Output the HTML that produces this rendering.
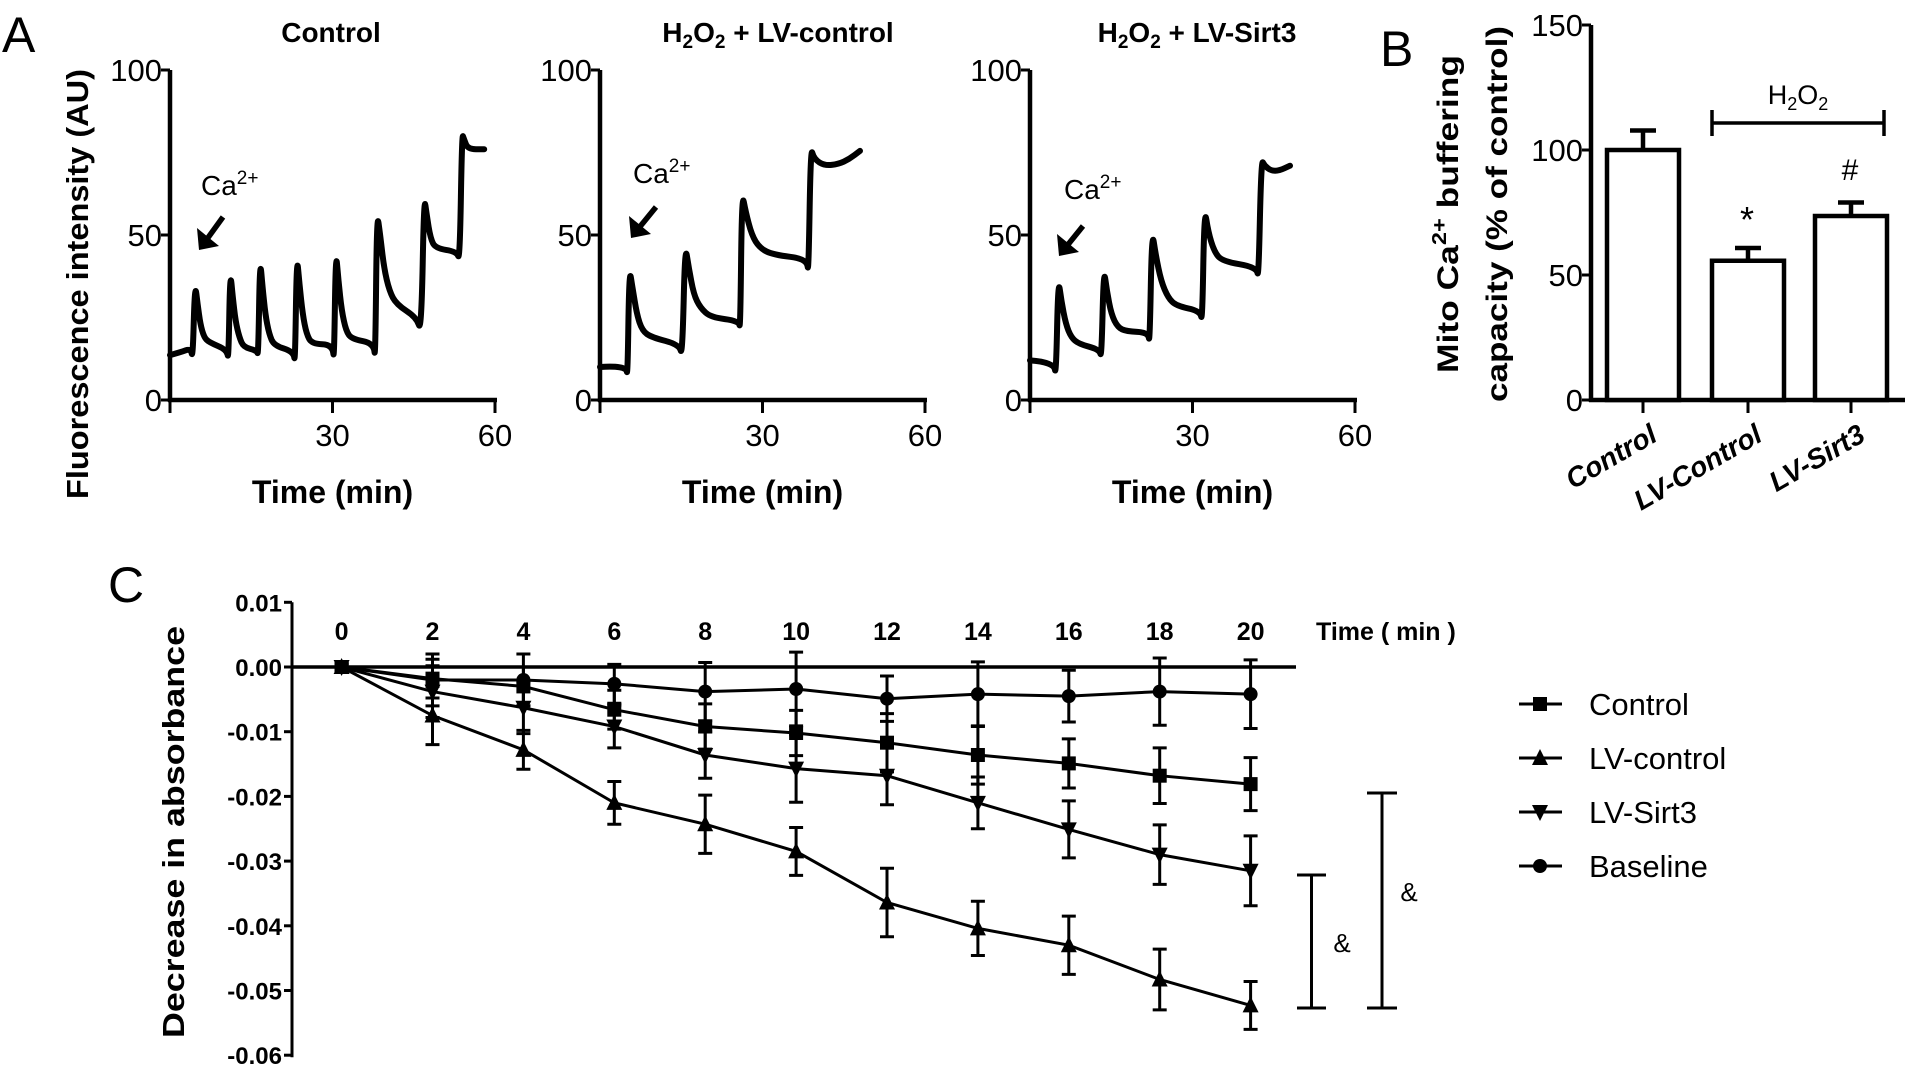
<!DOCTYPE html>
<html><head><meta charset="utf-8"><style>
html,body{margin:0;padding:0;background:#fff;}
svg{display:block;}
text{font-family:"Liberation Sans",sans-serif;fill:#000;}
.n{font-family:"Liberation Sans Narrow","Liberation Sans",sans-serif;}
</style></head><body>
<svg id="fig" width="1913" height="1090" viewBox="0 0 1913 1090" xmlns="http://www.w3.org/2000/svg"></svg>
<script>
// ---------- Panel A data (time in min, fluorescence AU) ----------
const ctrlT=[0,2,3.8,4.2,4.6,5.1,5.6,6.3,7.2,10.5,10.8,11.1,11.6,12.1,12.8,13.6,16.0,16.3,16.6,17.1,17.6,18.3,19.2,22.8,23.1,23.4,23.9,24.5,25.2,26.2,30.0,30.3,30.6,31.1,31.7,32.5,33.5,37.6,37.9,38.2,38.8,39.5,40.5,41.8,45.5,46.4,46.9,47.4,48.1,49,52.9,53.5,53.9,54.3,55,58];
const ctrlV=[13.6,14.5,15.6,12.6,35.6,29,23,19,17.5,15.2,12,39.5,31,24,19,16,15,13.5,43.2,34,26,20,16.5,14.7,11,44.4,35,26,20,17,16.8,11.5,45.9,36,27,21,18.5,17.2,12,57.4,50,40,33,29,25,20.5,62,56,49,46,45,42.3,80.8,79,76,76];
const lvcT=[0,4.8,5.1,5.4,6,6.8,7.8,9.5,14.6,15.2,15.7,16.4,17.3,18.5,20.5,25.6,25.9,26.2,26.9,28,29.5,32,38.2,38.5,38.9,39.5,41.5,44,46,48];
const lvcV=[10,10.5,6.8,40.2,34,26,21,19,16.8,13.2,47.4,40,32,28,25,24,21.4,63.1,57,50,46,44,42.8,38,76.8,73,71,71.5,73,75.5];
const sirT=[0,4.4,4.8,5.2,5.8,6.6,7.6,9,12.8,13.2,13.6,14.2,15,16.2,17.8,21.8,22.1,22.5,23.2,24.2,25.5,27,31.4,31.8,32.2,32.9,34,35.5,41.8,42.2,42.7,43.3,44.5,46,48];
const sirV=[12,11.5,7,37,30,23,19,17,15.3,12.7,40.2,33,26,22,20.8,20.5,17,51.7,44,36,31,28.5,27,23.6,58.5,51,45,42,40.3,36.7,73,71,69.5,69.5,71];
const aTicksY=[0,50,100];
const aTicksX=[30,60];
// ---------- Panel B data ----------
const bCats=["Control","LV-Control","LV-Sirt3"];
const bVals=[100,55.7,73.6];
const bErr=[7.8,5.1,5.4];
const bTicks=[0,50,100,150];
// ---------- Panel C data ----------
const cTimes=[0,2,4,6,8,10,12,14,16,18,20];
const cCtrl=[0,-0.0018,-0.003,-0.0066,-0.0092,-0.0102,-0.0117,-0.0136,-0.0149,-0.0168,-0.0181];
const cCtrlE=[0.0005,0.003,0.003,0.003,0.0035,0.0035,0.0045,0.0045,0.0038,0.0043,0.0041];
const cLvc=[0,-0.0075,-0.0128,-0.021,-0.0243,-0.0285,-0.0364,-0.0404,-0.043,-0.0483,-0.0523];
const cLvcE=[0.0005,0.0045,0.003,0.0033,0.0045,0.0037,0.0053,0.0042,0.0045,0.0047,0.0037];
const cSir=[0,-0.0038,-0.0063,-0.0092,-0.0136,-0.0157,-0.0168,-0.021,-0.0251,-0.029,-0.0315];
const cSirE=[0.0005,0.004,0.004,0.0033,0.0036,0.0052,0.0045,0.004,0.0044,0.0046,0.0054];
const cBase=[0,-0.002,-0.002,-0.0026,-0.0038,-0.0034,-0.0049,-0.0042,-0.0045,-0.0038,-0.0042];
const cBaseE=[0.0005,0.004,0.004,0.003,0.0045,0.0057,0.0035,0.005,0.004,0.0052,0.0053];
const cTicksY=[0.01,0,-0.01,-0.02,-0.03,-0.04,-0.05,-0.06];
const cTickLabels=["0.01","0.00","-0.01","-0.02","-0.03","-0.04","-0.05","-0.06"];

const NS="http://www.w3.org/2000/svg";
const svg=document.getElementById('fig');
function mk(tag,attrs,parent){const e=document.createElementNS(NS,tag);for(const k in attrs)e.setAttribute(k,attrs[k]);(parent||svg).appendChild(e);return e;}
function txt(s,attrs,parent){const e=mk('text',attrs,parent);e.textContent=s;return e;}
function smoothPath(P){
  let d='M'+P[0][0].toFixed(1)+','+P[0][1].toFixed(1);
  for(let i=1;i<P.length-1;i++){
    const mx=(P[i][0]+P[i+1][0])/2, my=(P[i][1]+P[i+1][1])/2;
    d+=' Q'+P[i][0].toFixed(1)+','+P[i][1].toFixed(1)+' '+mx.toFixed(1)+','+my.toFixed(1);
  }
  const l=P[P.length-1];d+=' L'+l[0].toFixed(1)+','+l[1].toFixed(1);
  return d;
}

// ================= Panel A =================
const aAxisX=[170,600,1030];
const aData=[[ctrlT,ctrlV],[lvcT,lvcV],[sirT,sirV]];
const aArrow=[[223,217,199,250,201,195],[656,207,631,238,633,183],[1083,226,1059,256,1064,199]];
const AY0=400, AYS=3.3, AXS=325/60;
let L=txt("A",{x:2,y:52,'font-size':50});

L=txt("Fluorescence intensity (AU)",{x:0,y:0,'font-size':31,'font-weight':'bold','text-anchor':'middle',transform:'translate(88,284) rotate(-90)',textLength:430,lengthAdjust:'spacingAndGlyphs'});

for(let p=0;p<3;p++){
  const g=mk('g',{});
  
  const ax=aAxisX[p];
  const xs=t=>ax+t*AXS, ys=v=>AY0-v*AYS;
  let t;
  if(p===0){t=txt("Control",{x:331,y:42,'font-size':28,'font-weight':'bold','text-anchor':'middle',class:'n'},g);}
  else{
    t=mk('text',{x:[778,1197][p-1],y:42,'font-size':28,'font-weight':'bold','text-anchor':'middle',class:'n'},g);
    t.innerHTML='H<tspan font-size="19" dy="6">2</tspan><tspan dy="-6">O</tspan><tspan font-size="19" dy="6">2</tspan><tspan dy="-6"> + '+(p===1?'LV-control':'LV-Sirt3')+'</tspan>';
  }
  
  let a=mk('line',{x1:ax,y1:ys(100),x2:ax,y2:AY0+2,stroke:'#000','stroke-width':4.5},g);
  
  a=mk('line',{x1:ax-2,y1:AY0,x2:xs(60)+2,y2:AY0,stroke:'#000','stroke-width':4.5},g);
  
  aTicksY.forEach(v=>{
    const tk=mk('line',{x1:ax-9,y1:ys(v),x2:ax,y2:ys(v),stroke:'#000','stroke-width':3},g);
    
    const lb=txt(String(v),{x:ax-8,y:ys(v)+11,'font-size':31,'text-anchor':'end',class:'n'},g);
    
  });
  [0].concat(aTicksX).forEach(v=>{
    const tk=mk('line',{x1:xs(v),y1:AY0,x2:xs(v),y2:AY0+13,stroke:'#000','stroke-width':3},g);
    
  });
  aTicksX.forEach(v=>{
    const lb=txt(String(v),{x:xs(v),y:446,'font-size':31,'text-anchor':'middle',class:'n'},g);
    
  });
  const xl=txt("Time (min)",{x:xs(30),y:503,'font-size':32,'font-weight':'bold','text-anchor':'middle',class:'n'},g);
  
  const [T,V]=aData[p];
  const pts=T.map((tt,i)=>[xs(tt),ys(V[i])]);
  const tr=mk('path',{d:smoothPath(pts),fill:'none',stroke:'#000','stroke-width':6,'stroke-linejoin':'round','stroke-linecap':'round'},g);
  
  const ar=aArrow[p];
  const arr=mk('g',{},g);
  
  mk('line',{x1:ar[0],y1:ar[1],x2:ar[2]+3,y2:ar[3]-4,stroke:'#000','stroke-width':5.5},arr);
  mk('polygon',{points:`${ar[2]},${ar[3]} ${ar[2]-2},${ar[3]-22} ${ar[2]+20},${ar[3]-4}`,fill:'#000'},arr);
  const cl=mk('text',{x:ar[4],y:ar[5],'font-size':28,class:'n'},g);
  cl.innerHTML='Ca<tspan font-size="19" dy="-11">2+</tspan>';
  
}

// ================= Panel B =================
const BX0=1591, BX1=1905, BY0=400, BYS=2.5;
const byS=v=>BY0-v*BYS;
const bCenters=[1643,1748,1851];
const gB=mk('g',{});

L=txt("B",{x:1380,y:66,'font-size':50},gB);

const byt=mk('text',{x:0,y:0,'font-size':30,'font-weight':'bold','text-anchor':'middle',transform:'translate(1458,214) rotate(-90)',textLength:318,lengthAdjust:'spacingAndGlyphs'},gB);
byt.innerHTML='Mito Ca<tspan font-size="20" dy="-12">2+</tspan><tspan dy="12"> buffering</tspan>';

L=txt("capacity (% of control)",{x:0,y:0,'font-size':30,'font-weight':'bold','text-anchor':'middle',transform:'translate(1507,214) rotate(-90)',textLength:376,lengthAdjust:'spacingAndGlyphs'},gB);

let ba=mk('line',{x1:BX0,y1:byS(150),x2:BX0,y2:BY0+2,stroke:'#000','stroke-width':4.5},gB);

ba=mk('line',{x1:BX0-2,y1:BY0,x2:BX1,y2:BY0,stroke:'#000','stroke-width':4.5},gB);

bTicks.forEach(v=>{
  const tk=mk('line',{x1:BX0-9,y1:byS(v),x2:BX0,y2:byS(v),stroke:'#000','stroke-width':3},gB);
  
  const lb=txt(String(v),{x:BX0-8,y:byS(v)+11,'font-size':31,'text-anchor':'end',class:'n'},gB);
  
});
bCats.forEach((c,i)=>{
  const cx=bCenters[i];
  const bar=mk('rect',{x:cx-36,y:byS(bVals[i]),width:72,height:bVals[i]*BYS,fill:'#fff',stroke:'#000','stroke-width':4.5},gB);
  
  const eb=mk('path',{d:`M${cx},${byS(bVals[i])} V${byS(bVals[i]+bErr[i])} M${cx-13},${byS(bVals[i]+bErr[i])} H${cx+13}`,stroke:'#000','stroke-width':4.5,fill:'none'},gB);
  
  const tk=mk('line',{x1:cx,y1:BY0,x2:cx,y2:BY0+13,stroke:'#000','stroke-width':3},gB);
  
  const lb=txt(c,{x:0,y:0,'font-size':28,'font-weight':'bold','font-style':'italic','text-anchor':'end',transform:`translate(${cx+16},${440}) rotate(-30)`},gB);
  
});
L=txt("*",{x:1747,y:232,'font-size':36,'text-anchor':'middle'},gB);

L=txt("#",{x:1850,y:180,'font-size':30,'text-anchor':'middle',class:'n'},gB);

L=mk('path',{d:'M1712,110 V136 M1712,123 H1884 M1884,110 V136',stroke:'#000','stroke-width':3.5,fill:'none'},gB);

L=mk('text',{x:1798,y:104,'font-size':27,'text-anchor':'middle',class:'n'},gB);
L.innerHTML='H<tspan font-size="18" dy="6">2</tspan><tspan dy="-6">O</tspan><tspan font-size="18" dy="6">2</tspan>';


// ================= Panel C =================
const CX0=341.6, CXS=45.45, CY0=667, CYS=6470;
const cx=t=>CX0+t*CXS, cy=v=>CY0-v*CYS;
const gC=mk('g',{});

L=txt("C",{x:108,y:602,'font-size':50},gC);

L=txt("Decrease in absorbance",{x:0,y:0,'font-size':31,'font-weight':'bold','text-anchor':'middle',transform:'translate(184,832) rotate(-90)',textLength:412,lengthAdjust:'spacingAndGlyphs'},gC);

L=mk('line',{x1:292,y1:cy(0.01),x2:292,y2:cy(-0.06)+2,stroke:'#000','stroke-width':3},gC);

L=mk('line',{x1:292,y1:CY0,x2:1296,y2:CY0,stroke:'#000','stroke-width':3.5},gC);

cTicksY.forEach((v,i)=>{
  const tk=mk('line',{x1:284,y1:cy(v),x2:292,y2:cy(v),stroke:'#000','stroke-width':3},gC);
  
  const lb=txt(cTickLabels[i],{x:282,y:cy(v)+9,'font-size':24,'font-weight':'bold','text-anchor':'end',class:'n'},gC);
  
});
cTimes.forEach(t=>{
  const lb=txt(String(t),{x:cx(t),y:640,'font-size':25,'font-weight':'bold','text-anchor':'middle',class:'n'},gC);
  
});
L=txt("Time ( min )",{x:1316,y:640,'font-size':25,'font-weight':'bold',class:'n'},gC);

function marker(kind,x,y,parent){
  let m;
  if(kind==='sq') m=mk('rect',{x:x-7,y:y-7,width:14,height:14,fill:'#000'},parent);
  else if(kind==='up') m=mk('polygon',{points:`${x},${y-9} ${x-8},${y+7} ${x+8},${y+7}`,fill:'#000'},parent);
  else if(kind==='dn') m=mk('polygon',{points:`${x},${y+9} ${x-8},${y-7} ${x+8},${y-7}`,fill:'#000'},parent);
  else m=mk('circle',{cx:x,cy:y,r:7,fill:'#000'},parent);
  return m;
}
const cSeries=[["control",cCtrl,cCtrlE,'sq'],["lv-control",cLvc,cLvcE,'up'],["lv-sirt3",cSir,cSirE,'dn'],["baseline",cBase,cBaseE,'ci']];
cSeries.forEach(s=>{
  const g=mk('g',{},gC);
  
  const [_,vals,errs,kind]=s;
  cTimes.forEach((t,i)=>{
    const x=cx(t),y1=cy(vals[i]+errs[i]),y2=cy(vals[i]-errs[i]);
    const e=mk('path',{d:`M${x},${y1} V${y2} M${x-7},${y1} H${x+7} M${x-7},${y2} H${x+7}`,stroke:'#000','stroke-width':3,fill:'none'},g);
    
  });
  const ln=mk('polyline',{points:cTimes.map((t,i)=>cx(t)+','+cy(vals[i])).join(' '),fill:'none',stroke:'#000','stroke-width':3},g);
  
  cTimes.forEach((t,i)=>{
    const m=marker(kind,cx(t),cy(vals[i]),g);
    
  });
});
const legNames=["Control","LV-control","LV-Sirt3","Baseline"];
const legKinds=['sq','up','dn','ci'];
legNames.forEach((n,i)=>{
  const y=704+i*54;
  const g=mk('g',{},gC);
  
  mk('line',{x1:1519,y1:y,x2:1562,y2:y,stroke:'#000','stroke-width':3},g);
  marker(legKinds[i],1540,y,g);
  txt(n,{x:1589,y:y+11,'font-size':31},g);
});
L=mk('path',{d:'M1297,875 H1326 M1311.5,875 V1008 M1297,1008 H1326',stroke:'#000','stroke-width':3,fill:'none'},gC);

L=txt("&",{x:1342,y:952,'font-size':26,'text-anchor':'middle'},gC);

L=mk('path',{d:'M1367,793 H1397 M1382,793 V1008 M1367,1008 H1397',stroke:'#000','stroke-width':3,fill:'none'},gC);

L=txt("&",{x:1409,y:901,'font-size':26,'text-anchor':'middle'},gC);

</script>
</body></html>
